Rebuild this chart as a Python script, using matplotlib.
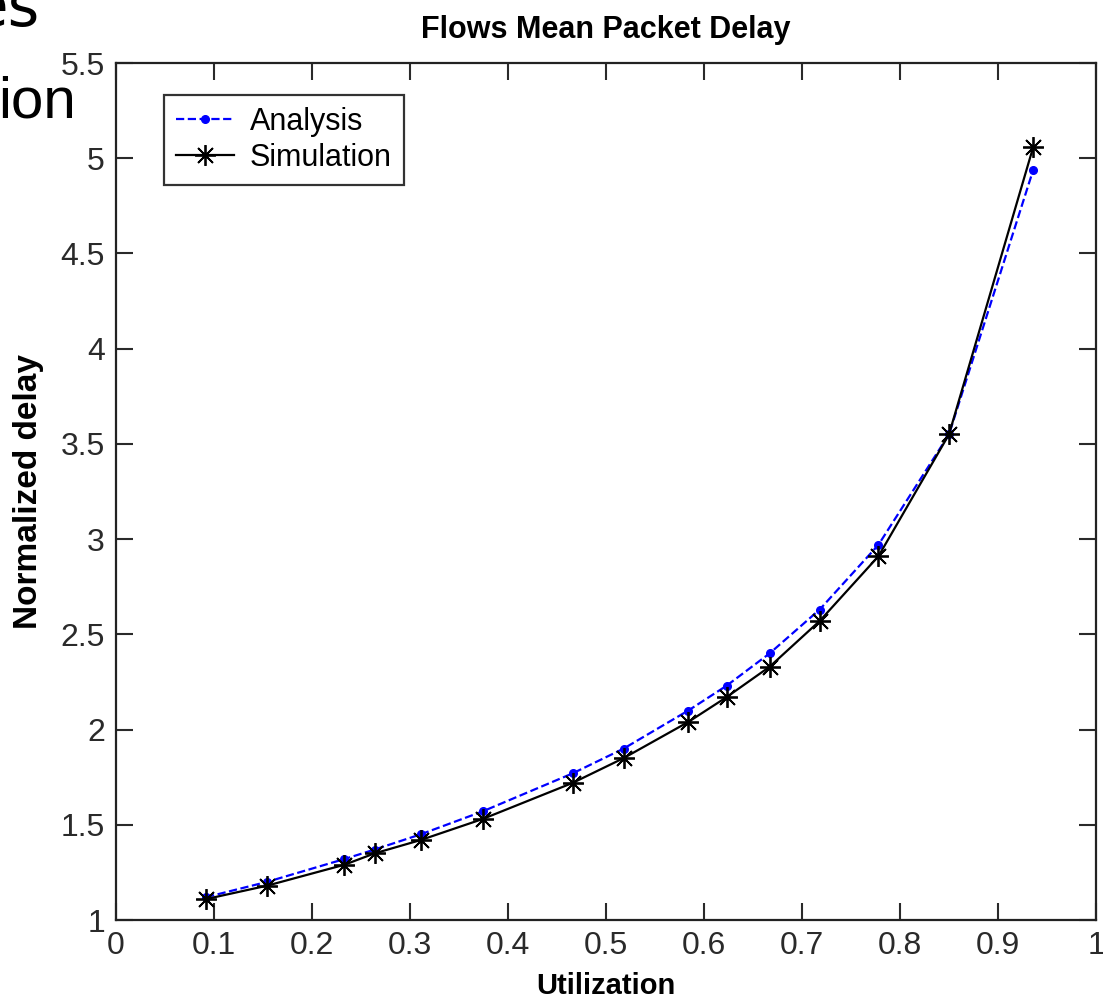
import numpy as np
import matplotlib
matplotlib.use("Agg")
from matplotlib import pyplot as plt

# data
utilization = [0.092, 0.154, 0.233, 0.264, 0.311, 0.374, 0.466, 0.518, 0.584, 0.623, 0.667, 0.718, 0.778, 0.850, 0.936]
analysis = [1.12, 1.20, 1.32, 1.37, 1.45, 1.57, 1.77, 1.90, 2.10, 2.23, 2.40, 2.63, 2.97, 3.55, 4.94]
simulation = [1.11, 1.18, 1.29, 1.35, 1.42, 1.53, 1.72, 1.85, 2.04, 2.17, 2.33, 2.57, 2.91, 3.55, 5.06]

xticks = [0, 0.1, 0.2, 0.3, 0.4, 0.5, 0.6, 0.7, 0.8, 0.9, 1]
xticklabels = ["0", "0.1", "0.2", "0.3", "0.4", "0.5", "0.6", "0.7", "0.8", "0.9", "1"]
yticks = [1, 1.5, 2, 2.5, 3, 3.5, 4, 4.5, 5, 5.5]
yticklabels = ["1", "1.5", "2", "2.5", "3", "3.5", "4", "4.5", "5", "5.5"]

plt.rcParams['font.family'] = ["Liberation Sans", "DejaVu Sans"]

W, H = 1103, 1005
fig = plt.figure(figsize=(W / 100, H / 100), dpi=100)
ax = fig.add_axes([116 / W, 1 - 920 / H, (1096 - 116) / W, (920 - 63) / H])

ax.plot(utilization, analysis, color='blue', linestyle='--', lw=1.6,
        marker='.', markersize=11, label='Analysis')
ax.plot(utilization, simulation, color='black', linestyle='-', lw=1.6,
        marker=(8, 2, 0), markersize=15, markeredgewidth=1.3, label='Simulation')

ax.set_xlim(0, 1)
ax.set_ylim(1, 5.5)
ax.set_xticks(xticks)
ax.set_xticklabels(xticklabels)
ax.set_yticks(yticks)
ax.set_yticklabels(yticklabels)
ax.tick_params(direction='in', length=12, width=1.5, labelsize=23,
               top=True, right=True, pad=8, colors='#2a2a2a')
for s in ax.spines.values():
    s.set_linewidth(1.6)
    s.set_color('#222222')

ax.set_title("Flows Mean Packet Delay", fontsize=22, fontweight='bold', pad=18)
ax.set_xlabel("Utilization", fontsize=21, fontweight='bold', labelpad=8)
ax.set_ylabel("Normalized delay", fontsize=24, fontweight='bold', labelpad=12)

leg = ax.legend(loc='upper left', bbox_to_anchor=(0.049, 0.963), borderaxespad=0,
                fontsize=22, frameon=True, fancybox=False, edgecolor='black',
                handlelength=1.9, borderpad=0.4, labelspacing=0.2,
                handletextpad=0.5)
leg.get_frame().set_linewidth(1.6)

# slide text cut off at the top left
fig.text(40 / W, 1 - 26 / H, "es", fontsize=44, ha='right', va='baseline',
         family='DejaVu Sans', color='black')
fig.text(76 / W, 1 - 117 / H, "ion", fontsize=42, ha='right', va='baseline',
         family='Liberation Sans', color='black')

fig.savefig("out.png", dpi=100)
